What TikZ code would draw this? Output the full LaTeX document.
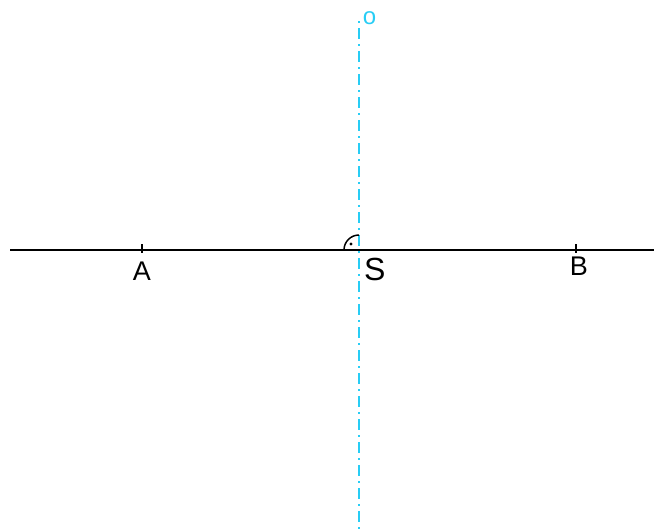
\documentclass[tikz,border=0pt]{standalone}
\usepackage{fontspec}
\setmainfont{Liberation Sans}
\usetikzlibrary{positioning,calc}
\definecolor{axiscyan}{RGB}{40,205,245}

\begin{document}
\begin{tikzpicture}[x=1pt, y=1pt, lbl/.style={inner sep=0pt, font=\fontsize{27}{27}\selectfont},
  axisline/.style={axiscyan, line width=2pt, dash pattern=on 11pt off 5pt on 2pt off 5pt, dash phase=13pt},
  tick/.style={line width=1.6pt}]
\useasboundingbox (0,0) rectangle (654,-531);
\coordinate (L) at (10,-250);
\coordinate (R) at (654,-250);
\coordinate (A) at (142,-250);
\coordinate (B) at (576,-250);
\coordinate (S) at (359,-250);
\coordinate (O) at (359,-18);
\coordinate (bot) at (359,-531);
\draw[line width=2.2pt] (L) -- (R);
\draw[axisline] (O) -- (bot);
\draw[tick] ($(A)+(0,6)$) -- ($(A)+(0,-3)$);
\draw[tick] ($(B)+(0,6)$) -- ($(B)+(0,-3)$);
% right angle at S
\draw[line width=1.5pt] ($(S)+(0,15)$) arc[start angle=90, end angle=180, radius=15];
\fill ($(S)+(-8,6)$) circle (1.7);
\node[lbl, below=12pt of A] (labA) {A};
\node[lbl, below=7pt of B, xshift=3pt] (labB) {B};
\node[lbl, font=\fontsize{32}{32}\selectfont, below right=8pt and 5pt of S] (labS) {S};
\node[lbl, font=\fontsize{24}{24}\selectfont, text=axiscyan] (labO) at (369.5,-18.5) {o};
\end{tikzpicture}
\end{document}
